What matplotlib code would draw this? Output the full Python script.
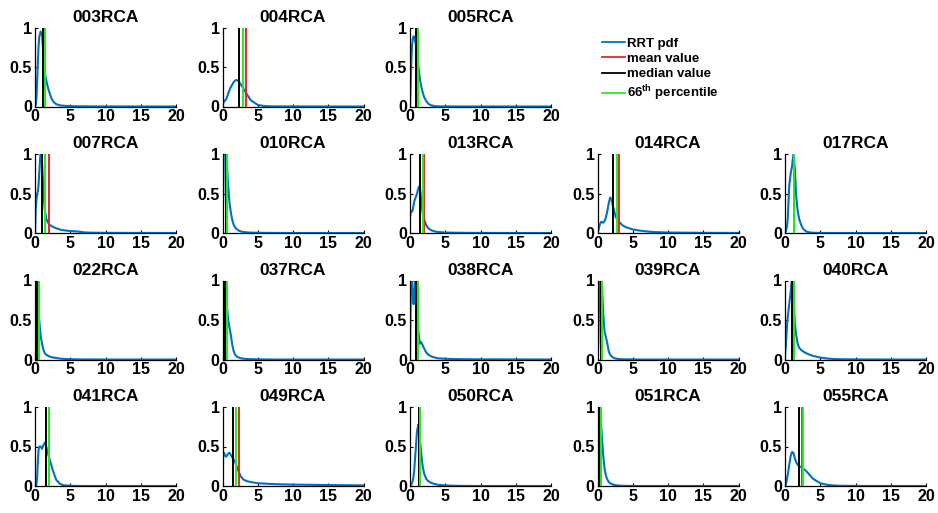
import matplotlib
matplotlib.use("Agg")
import matplotlib.pyplot as plt
from matplotlib.lines import Line2D

plt.rcParams['font.family'] = ['Liberation Sans', 'DejaVu Sans']
plt.rcParams['font.weight'] = 'bold'
plt.rcParams['mathtext.fontset'] = 'custom'
plt.rcParams['mathtext.bf'] = 'Liberation Sans:bold'
plt.rcParams['mathtext.rm'] = 'Liberation Sans:bold'

# ---------------- data ----------------
names = ["003RCA", "004RCA", "005RCA",
         "007RCA", "010RCA", "013RCA", "014RCA", "017RCA",
         "022RCA", "037RCA", "038RCA", "039RCA", "040RCA",
         "041RCA", "049RCA", "050RCA", "051RCA", "055RCA"]

x_grid = [0, 0.1, 0.2, 0.3, 0.4, 0.5, 0.6, 0.8, 1.0, 1.2, 1.4, 1.6, 1.8, 2.0,
          2.3, 2.6, 3.0, 3.5, 4, 5, 6, 7, 8, 10, 15, 20]

pdf_003 = [0, 0.02, 0.1, 0.3, 0.55, 0.75, 0.88, 0.95, 0.9, 0.65, 0.42, 0.33, 0.25, 0.19,
           0.11, 0.06, 0.03, 0.015, 0.01, 0.005, 0.003, 0.002, 0.001, 0.001, 0, 0]
pdf_004 = [0.02, 0.04, 0.06, 0.07, 0.08, 0.09, 0.11, 0.16, 0.21, 0.25, 0.28, 0.31, 0.33, 0.335,
           0.32, 0.28, 0.22, 0.15, 0.08, 0.02, 0.005, 0.002, 0.001, 0.001, 0, 0]
pdf_005 = [0, 0.3, 0.6, 0.78, 0.86, 0.89, 0.88, 0.8, 0.65, 0.5, 0.35, 0.25, 0.18, 0.12,
           0.07, 0.035, 0.015, 0.005, 0.002, 0.001, 0.001, 0, 0, 0, 0, 0]
pdf_007 = [0, 0.3, 0.42, 0.5, 0.52, 0.6, 0.75, 1.05, 0.9, 0.5, 0.28, 0.18, 0.14, 0.11,
           0.09, 0.075, 0.06, 0.045, 0.035, 0.025, 0.02, 0.008, 0.004, 0.002, 0.001, 0]
pdf_010 = [0, 0.5, 1.1, 1.3, 1.2, 1.05, 0.9, 0.6, 0.38, 0.25, 0.16, 0.1, 0.07, 0.05,
           0.03, 0.02, 0.012, 0.008, 0.005, 0.003, 0.002, 0.001, 0.001, 0, 0, 0]
pdf_013 = [0.2, 0.27, 0.28, 0.27, 0.3, 0.35, 0.4, 0.45, 0.5, 0.57, 0.6, 0.4, 0.25, 0.17,
           0.1, 0.06, 0.035, 0.02, 0.012, 0.006, 0.004, 0.003, 0.002, 0.001, 0, 0]
pdf_014 = [0, 0.03, 0.06, 0.1, 0.12, 0.14, 0.14, 0.13, 0.15, 0.2, 0.28, 0.38, 0.45, 0.42,
           0.3, 0.2, 0.15, 0.1, 0.075, 0.045, 0.03, 0.02, 0.012, 0.006, 0.002, 0.001]
pdf_017 = [0, 0.02, 0.05, 0.1, 0.2, 0.4, 0.6, 0.75, 0.85, 1.0, 0.8, 0.45, 0.28, 0.18,
           0.1, 0.05, 0.02, 0.007, 0.003, 0.001, 0, 0, 0, 0, 0, 0]
pdf_022 = [0, 0.9, 1.3, 1.1, 0.9, 0.7, 0.5, 0.3, 0.2, 0.12, 0.08, 0.06, 0.05, 0.04,
           0.03, 0.025, 0.02, 0.012, 0.008, 0.004, 0.002, 0.001, 0.001, 0, 0, 0]
pdf_037 = [0, 0.6, 1.2, 1.3, 1.1, 0.9, 0.7, 0.5, 0.4, 0.3, 0.18, 0.1, 0.06, 0.04,
           0.025, 0.015, 0.01, 0.006, 0.004, 0.002, 0.001, 0, 0, 0, 0, 0]
pdf_038 = [0, 0.8, 1.2, 1.0, 0.8, 0.7, 0.8, 1.1, 0.8, 0.35, 0.2, 0.22, 0.18, 0.14,
           0.09, 0.06, 0.04, 0.025, 0.015, 0.01, 0.006, 0.004, 0.003, 0.002, 0.001, 0]
pdf_039 = [0, 0.2, 0.6, 1.0, 1.2, 1.2, 1.0, 0.6, 0.35, 0.28, 0.2, 0.1, 0.06, 0.04,
           0.02, 0.012, 0.006, 0.003, 0.002, 0.001, 0, 0, 0, 0, 0, 0]
pdf_040 = [0.05, 0.15, 0.3, 0.45, 0.55, 0.62, 0.7, 0.85, 1.05, 0.8, 0.45, 0.3, 0.2, 0.15,
           0.12, 0.1, 0.08, 0.06, 0.045, 0.025, 0.012, 0.006, 0.003, 0.001, 0, 0]
pdf_041 = [0, 0, 0.02, 0.1, 0.3, 0.45, 0.5, 0.5, 0.47, 0.52, 0.55, 0.5, 0.42, 0.36,
           0.27, 0.18, 0.08, 0.03, 0.01, 0.003, 0.001, 0, 0, 0, 0, 0]
pdf_049 = [0, 0.43, 0.42, 0.4, 0.38, 0.37, 0.38, 0.41, 0.42, 0.39, 0.36, 0.33, 0.3, 0.25,
           0.18, 0.12, 0.08, 0.06, 0.05, 0.035, 0.03, 0.025, 0.022, 0.018, 0.012, 0.008]
pdf_050 = [0, 0.01, 0.02, 0.04, 0.07, 0.12, 0.2, 0.45, 0.7, 0.78, 0.6, 0.4, 0.25, 0.16,
           0.09, 0.06, 0.04, 0.025, 0.015, 0.008, 0.004, 0.002, 0.001, 0, 0, 0]
pdf_051 = [0, 0.3, 0.6, 0.8, 0.87, 0.8, 0.65, 0.4, 0.22, 0.13, 0.08, 0.05, 0.035, 0.025,
           0.015, 0.01, 0.006, 0.003, 0.002, 0.001, 0, 0, 0, 0, 0, 0]
pdf_055 = [0, 0.02, 0.05, 0.1, 0.15, 0.2, 0.27, 0.38, 0.43, 0.42, 0.35, 0.3, 0.27, 0.25,
           0.24, 0.22, 0.19, 0.14, 0.09, 0.035, 0.015, 0.006, 0.003, 0.001, 0, 0]

pdfs = [pdf_003, pdf_004, pdf_005, pdf_007, pdf_010, pdf_013, pdf_014, pdf_017,
        pdf_022, pdf_037, pdf_038, pdf_039, pdf_040, pdf_041, pdf_049, pdf_050,
        pdf_051, pdf_055]

mean_vals   = [1.47, 3.3, 1.16, 2.0, 0.69, 1.92, 3.05, 1.33, 0.54, 0.64, 1.19, 0.69, 1.29,
               2.03, 2.36, 1.41, 0.54, 2.38]
median_vals = [1.19, 2.35, 0.84, 1.05, 0.45, 1.4, 2.2, 1.25, 0.35, 0.4, 0.84, 0.5, 1.0,
               1.52, 1.46, 1.3, 0.42, 2.05]
p66_vals    = [1.48, 2.9, 1.17, 1.38, 0.7, 1.78, 2.74, 1.33, 0.55, 0.65, 1.2, 0.7, 1.3,
               2.05, 1.93, 1.42, 0.55, 2.62]

# grid positions (row, col) for each panel
positions = [(0, 0), (0, 1), (0, 2),
             (1, 0), (1, 1), (1, 2), (1, 3), (1, 4),
             (2, 0), (2, 1), (2, 2), (2, 3), (2, 4),
             (3, 0), (3, 1), (3, 2), (3, 3), (3, 4)]

C_BLUE = '#0072BD'
C_RED = '#E8262A'
C_BLACK = '#000000'
C_GREEN = '#22EE22'

W, H = 938, 513
fig = plt.figure(figsize=(W / 100, H / 100), dpi=100)

col_left = [35, 222.5, 410, 597.5, 785]
row_top = [27.5, 154, 280.5, 407]
ax_w, ax_h = 141, 79

for name, pdf, mv, md, pv, (r, c) in zip(names, pdfs, mean_vals, median_vals,
                                          p66_vals, positions):
    left = col_left[c] / W
    bottom = 1 - (row_top[r] + ax_h) / H
    ax = fig.add_axes([left, bottom, ax_w / W, ax_h / H])
    ax.plot(x_grid, pdf, color=C_BLUE, lw=1.5, zorder=2)
    ax.axvline(mv, color=C_RED, lw=1.4, zorder=3)
    ax.axvline(md, color=C_BLACK, lw=1.4, zorder=4)
    ax.axvline(pv, color=C_GREEN, lw=1.4, zorder=5)
    ax.set_xlim(0, 20)
    ax.set_ylim(0, 1)
    ax.set_xticks([0, 5, 10, 15, 20])
    ax.set_xticklabels(['0', '5', '10', '15', '20'])
    ax.set_yticks([0, 0.5, 1])
    ax.set_yticklabels(['0', '0.5', '1'])
    ax.tick_params(direction='in', length=2.5, width=0.8, labelsize=11.5, pad=2)
    for lab in ax.get_xticklabels() + ax.get_yticklabels():
        lab.set_fontweight('bold')
    ax.spines['top'].set_visible(False)
    ax.spines['right'].set_visible(False)
    ax.spines['left'].set_linewidth(0.9)
    ax.spines['bottom'].set_linewidth(0.9)
    ax.set_title(name, fontsize=12.5, fontweight='bold', pad=4)

handles = [Line2D([], [], color=C_BLUE, lw=1.3),
           Line2D([], [], color=C_RED, lw=1.3),
           Line2D([], [], color=C_BLACK, lw=1.3),
           Line2D([], [], color=C_GREEN, lw=1.3)]
labels = ['RRT pdf', 'mean value', 'median value', r'66$^{\mathbf{th}}$ percentile']
fig.legend(handles, labels, loc='upper left', bbox_to_anchor=(595 / W, 1 - 31 / H),
           frameon=False, prop={'size': 9.5, 'weight': 'bold'},
           handlelength=1.8, handletextpad=0.15, labelspacing=0.23, borderpad=0)

fig.savefig('out.png', dpi=100)
